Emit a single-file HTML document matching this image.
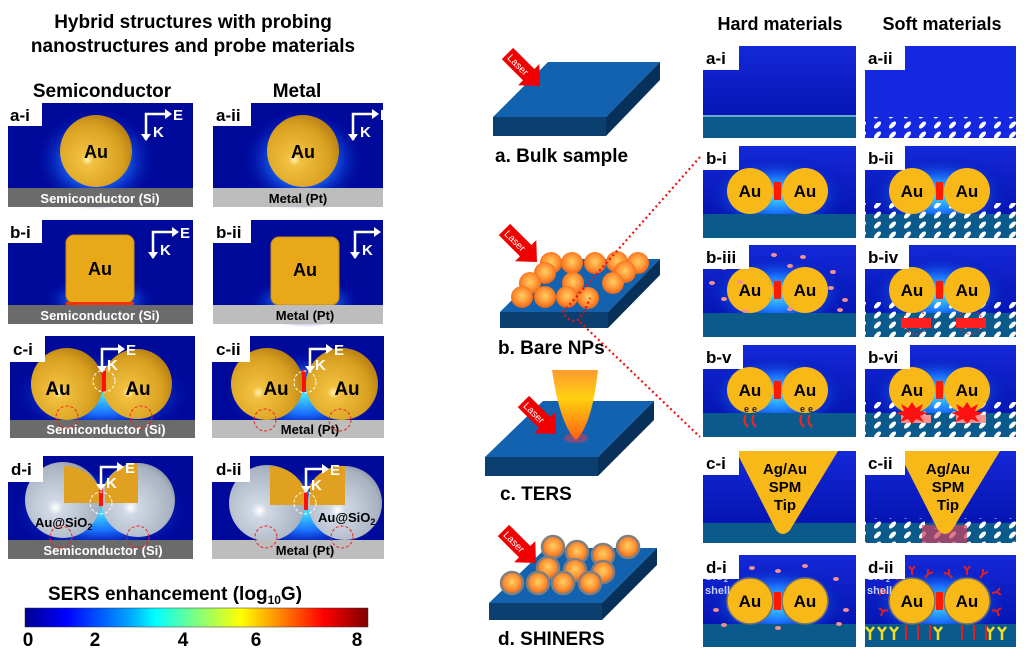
<!DOCTYPE html>
<html><head><meta charset="utf-8"><style>
html,body{margin:0;padding:0;background:#fff;width:1024px;height:663px;overflow:hidden}
svg{display:block;font-family:"Liberation Sans",Arial,sans-serif;font-weight:bold}
</style></head><body>
<svg width="1024" height="663" viewBox="0 0 1024 663" xmlns="http://www.w3.org/2000/svg">
<defs>
<radialGradient id="gold" cx="0.38" cy="0.62" r="0.7"><stop offset="0" stop-color="#fff2b0"/><stop offset="0.12" stop-color="#f2c040"/><stop offset="0.7" stop-color="#d8a020"/><stop offset="1" stop-color="#b07a10"/></radialGradient>
<radialGradient id="silver" cx="0.4" cy="0.6" r="0.7"><stop offset="0" stop-color="#ffffff"/><stop offset="0.15" stop-color="#d0d8e4"/><stop offset="0.8" stop-color="#a8b2c0"/><stop offset="1" stop-color="#7f8896"/></radialGradient>
<radialGradient id="glow"><stop offset="0" stop-color="#40e0ff"/><stop offset="0.45" stop-color="#1a70ff"/><stop offset="1" stop-color="#0010b0" stop-opacity="0"/></radialGradient>
<radialGradient id="np" cx="0.5" cy="0.45" r="0.6"><stop offset="0" stop-color="#ffd060"/><stop offset="0.6" stop-color="#ff8c30"/><stop offset="1" stop-color="#e05a10"/></radialGradient>
<linearGradient id="tip" x1="0" y1="0" x2="0" y2="1"><stop offset="0" stop-color="#ff9a30"/><stop offset="0.4" stop-color="#ffd010"/><stop offset="1" stop-color="#ff6010"/></linearGradient>
<linearGradient id="fieldR" x1="0" y1="0" x2="0" y2="1"><stop offset="0" stop-color="#1428d8"/><stop offset="1" stop-color="#0010a8"/></linearGradient>
<linearGradient id="jet" x1="0" y1="0" x2="1" y2="0"><stop offset="0" stop-color="#00008f"/><stop offset="0.12" stop-color="#0000ff"/><stop offset="0.3" stop-color="#00a0ff"/><stop offset="0.38" stop-color="#00ffff"/><stop offset="0.5" stop-color="#80ff80"/><stop offset="0.63" stop-color="#ffff00"/><stop offset="0.75" stop-color="#ff8000"/><stop offset="0.87" stop-color="#ff0000"/><stop offset="1" stop-color="#800000"/></linearGradient>
<pattern id="ell" width="15" height="10" patternUnits="userSpaceOnUse"><ellipse cx="7.5" cy="5" rx="4.5" ry="2.2" transform="rotate(-45 7.5 5)" fill="#fff"/></pattern>
<g id="laser"><polygon points="-46,-8 -16,-8 -16,-15 0,0 -16,15 -16,8 -46,8" fill="#f00000"/><text x="-43" y="4" font-size="10" fill="#fff" font-weight="normal">Laser</text></g>
</defs>

<!-- Titles -->
<text x="193" y="28" font-size="19" text-anchor="middle">Hybrid structures with probing</text>
<text x="193" y="52" font-size="19" text-anchor="middle">nanostructures and probe materials</text>
<text x="102" y="97" font-size="19" text-anchor="middle">Semiconductor</text>
<text x="297" y="97" font-size="19" text-anchor="middle">Metal</text>
<text x="780" y="30" font-size="18" text-anchor="middle">Hard materials</text>
<text x="942" y="30" font-size="18" text-anchor="middle">Soft materials</text>

<!-- LEFT PANELS -->
<g>
<rect x="8" y="103" width="185" height="104" fill="#000a9a"/>
<ellipse cx="96" cy="160" rx="60" ry="50" fill="url(#glow)"/>
<circle cx="96" cy="151" r="36" fill="url(#gold)"/>
<text x="96" y="158" font-size="18" text-anchor="middle">Au</text>
<rect x="8" y="188" width="185" height="19" fill="#6b6b6b"/>
<text x="100" y="203" font-size="13" fill="#fff" text-anchor="middle">Semiconductor (Si)</text>
<rect x="8" y="103" width="34" height="23" fill="#fff"/><text x="10" y="121" font-size="17">a-i</text>

<rect x="213" y="103" width="170" height="104" fill="#000a9a"/>
<ellipse cx="303" cy="160" rx="60" ry="50" fill="url(#glow)"/>
<circle cx="303" cy="151" r="36" fill="url(#gold)"/>
<text x="303" y="158" font-size="18" text-anchor="middle">Au</text>
<rect x="213" y="188" width="170" height="19" fill="#bdbdbd"/>
<text x="298" y="203" font-size="13" text-anchor="middle">Metal (Pt)</text>
<rect x="213" y="103" width="38" height="23" fill="#fff"/><text x="216" y="121" font-size="17">a-ii</text>

<rect x="8" y="220" width="185" height="104" fill="#000a9a"/>
<ellipse cx="100" cy="300" rx="55" ry="25" fill="url(#glow)"/>
<rect x="66" y="235" width="68" height="68" rx="8" fill="#e8a818" stroke="#c88a10"/>
<text x="100" y="275" font-size="18" text-anchor="middle">Au</text>
<rect x="66" y="302" width="68" height="3" fill="#ff3000"/>
<rect x="8" y="305" width="185" height="19" fill="#6b6b6b"/>
<text x="100" y="320" font-size="13" fill="#fff" text-anchor="middle">Semiconductor (Si)</text>
<rect x="8" y="220" width="34" height="23" fill="#fff"/><text x="10" y="238" font-size="17">b-i</text>

<rect x="213" y="220" width="170" height="104" fill="#000a9a"/>
<ellipse cx="305" cy="302" rx="55" ry="25" fill="url(#glow)"/>
<rect x="271" y="237" width="68" height="68" rx="8" fill="#e8a818" stroke="#c88a10"/>
<text x="305" y="276" font-size="18" text-anchor="middle">Au</text>
<rect x="213" y="305" width="170" height="19" fill="#bdbdbd"/>
<text x="305" y="320" font-size="13" text-anchor="middle">Metal (Pt)</text>
<rect x="213" y="220" width="38" height="23" fill="#fff"/><text x="216" y="238" font-size="17">b-ii</text>

<rect x="10" y="336" width="185" height="102" fill="#000a9a"/>
<ellipse cx="102" cy="395" rx="88" ry="42" fill="url(#glow)"/>
<circle cx="67" cy="384" r="36" fill="url(#gold)"/>
<circle cx="137" cy="384" r="35" fill="url(#gold)"/>
<rect x="102" y="370" width="4" height="22" fill="#ff1000"/>
<text x="58" y="395" font-size="19" text-anchor="middle">Au</text>
<text x="138" y="395" font-size="19" text-anchor="middle">Au</text>
<rect x="10" y="420" width="185" height="18" fill="#6b6b6b"/>
<text x="106" y="434" font-size="13" fill="#fff" text-anchor="middle">Semiconductor (Si)</text>
<circle cx="104" cy="381" r="11" fill="none" stroke="#fff" stroke-dasharray="3,2"/>
<circle cx="67" cy="417" r="11" fill="none" stroke="#f02020" stroke-dasharray="3,2"/>
<circle cx="141" cy="417" r="11" fill="none" stroke="#f02020" stroke-dasharray="3,2"/>
<rect x="10" y="336" width="35" height="26" fill="#fff"/><text x="13" y="355" font-size="17">c-i</text>

<rect x="212" y="336" width="172" height="102" fill="#000a9a"/>
<ellipse cx="304" cy="395" rx="78" ry="42" fill="url(#glow)"/>
<circle cx="267" cy="384" r="36" fill="url(#gold)"/>
<circle cx="342" cy="384" r="36" fill="url(#gold)"/>
<rect x="302" y="370" width="4" height="22" fill="#ff1000"/>
<text x="276" y="395" font-size="19" text-anchor="middle">Au</text>
<text x="347" y="395" font-size="19" text-anchor="middle">Au</text>
<rect x="212" y="420" width="172" height="18" fill="#bdbdbd"/>
<text x="310" y="434" font-size="13" text-anchor="middle">Metal (Pt)</text>
<circle cx="305" cy="382" r="11" fill="none" stroke="#fff" stroke-dasharray="3,2"/>
<circle cx="265" cy="420" r="11" fill="none" stroke="#f02020" stroke-dasharray="3,2"/>
<circle cx="340" cy="420" r="11" fill="none" stroke="#f02020" stroke-dasharray="3,2"/>
<rect x="212" y="336" width="38" height="26" fill="#fff"/><text x="216" y="355" font-size="17">c-ii</text>

<rect x="8" y="456" width="185" height="103" fill="#000a9a"/>
<ellipse cx="100" cy="512" rx="88" ry="42" fill="url(#glow)"/>
<circle cx="63" cy="500" r="38" fill="url(#silver)"/>
<circle cx="138" cy="500" r="37" fill="url(#silver)"/>
<path d="M64 466 A38 38 0 0 1 100 490 L100 503 L64 503 Z" fill="#e0a020"/>
<path d="M105 503 L105 485 A37 37 0 0 1 138 463 L138 503 Z" fill="#e0a020"/>
<rect x="99" y="488" width="4" height="18" fill="#ff1000"/>
<text x="35" y="527" font-size="13">Au@SiO<tspan font-size="9" dy="3">2</tspan></text>
<rect x="8" y="540" width="185" height="19" fill="#6b6b6b"/>
<text x="103" y="555" font-size="13" fill="#fff" text-anchor="middle">Semiconductor (Si)</text>
<circle cx="101" cy="503" r="11" fill="none" stroke="#fff" stroke-dasharray="3,2"/>
<circle cx="61" cy="537" r="11" fill="none" stroke="#f02020" stroke-dasharray="3,2"/>
<circle cx="138" cy="537" r="11" fill="none" stroke="#f02020" stroke-dasharray="3,2"/>
<rect x="8" y="456" width="35" height="26" fill="#fff"/><text x="11" y="475" font-size="17">d-i</text>

<rect x="212" y="456" width="172" height="103" fill="#000a9a"/>
<ellipse cx="305" cy="512" rx="78" ry="42" fill="url(#glow)"/>
<circle cx="267" cy="503" r="38" fill="url(#silver)"/>
<circle cx="345" cy="503" r="37" fill="url(#silver)"/>
<path d="M270 466 A38 38 0 0 1 305 490 L305 505 L270 505 Z" fill="#e0a020"/>
<path d="M310 505 L310 485 A37 37 0 0 1 345 466 L345 505 Z" fill="#e0a020"/>
<rect x="304" y="492" width="4" height="18" fill="#ff1000"/>
<text x="318" y="522" font-size="13">Au@SiO<tspan font-size="9" dy="3">2</tspan></text>
<rect x="212" y="540" width="172" height="19" fill="#bdbdbd"/>
<text x="305" y="555" font-size="13" text-anchor="middle">Metal (Pt)</text>
<circle cx="305" cy="503" r="11" fill="none" stroke="#fff" stroke-dasharray="3,2"/>
<circle cx="266" cy="537" r="11" fill="none" stroke="#f02020" stroke-dasharray="3,2"/>
<circle cx="342" cy="537" r="11" fill="none" stroke="#f02020" stroke-dasharray="3,2"/>
<rect x="212" y="456" width="38" height="26" fill="#fff"/><text x="216" y="475" font-size="17">d-ii</text>
</g>
<!-- E/K arrows -->
<g stroke="#fff" stroke-width="2.5" fill="#fff">
<path d="M146 140 V114 H165" fill="none"/><polygon points="165,109 172,114 165,119" stroke="none"/><polygon points="141,134 146,141 151,134" stroke="none"/>
<path d="M353 140 V114 H372" fill="none"/><polygon points="372,109 379,114 372,119" stroke="none"/><polygon points="348,134 353,141 358,134" stroke="none"/>
<path d="M153 258 V232 H172" fill="none"/><polygon points="172,227 179,232 172,237" stroke="none"/><polygon points="148,252 153,259 158,252" stroke="none"/>
<path d="M355 258 V232 H374" fill="none"/><polygon points="374,227 381,232 374,237" stroke="none"/><polygon points="350,252 355,259 360,252" stroke="none"/>
<path d="M102 372 V349 H118" fill="none"/><polygon points="118,344 125,349 118,354" stroke="none"/><polygon points="97,366 102,373 107,366" stroke="none"/>
<path d="M310 372 V349 H326" fill="none"/><polygon points="326,344 333,349 326,354" stroke="none"/><polygon points="305,366 310,373 315,366" stroke="none"/>
<path d="M101 490 V467 H117" fill="none"/><polygon points="117,462 124,467 117,472" stroke="none"/><polygon points="96,484 101,491 106,484" stroke="none"/>
<path d="M306 492 V469 H322" fill="none"/><polygon points="322,464 329,469 322,474" stroke="none"/><polygon points="301,486 306,493 311,486" stroke="none"/>
</g>
<g fill="#fff" font-size="15">
<text x="173" y="120">E</text><text x="153" y="137">K</text>
<text x="380" y="120">E</text><text x="360" y="137">K</text>
<text x="180" y="238">E</text><text x="160" y="255">K</text>
<text x="362" y="255">K</text>
<text x="126" y="355">E</text><text x="107" y="370">K</text>
<text x="334" y="355">E</text><text x="315" y="370">K</text>
<text x="125" y="473">E</text><text x="106" y="488">K</text>
<text x="330" y="475">E</text><text x="311" y="490">K</text>
</g>

<!-- Colorbar -->
<text x="175" y="600" font-size="19" text-anchor="middle">SERS enhancement (log<tspan font-size="12" dy="4">10</tspan><tspan dy="-4">G)</tspan></text>
<rect x="25" y="608" width="343" height="19" fill="url(#jet)" stroke="#333" stroke-width="0.5"/>
<g font-size="19"><text x="28" y="646" text-anchor="middle">0</text><text x="95" y="646" text-anchor="middle">2</text><text x="183" y="646" text-anchor="middle">4</text><text x="256" y="646" text-anchor="middle">6</text><text x="357" y="646" text-anchor="middle">8</text></g>

<!-- MIDDLE COLUMN -->
<polygon points="493,117 548,62 660,62 606,117" fill="#1262b0"/>
<rect x="493" y="117" width="113" height="19" fill="#0a3f70"/>
<polygon points="606,117 660,62 660,80 606,136" fill="#07305a"/>
<use href="#laser" transform="translate(540,86) rotate(45)"/>
<text x="495" y="162" font-size="19">a. Bulk sample</text>

<polygon points="500,312 553,259 660,259 608,312" fill="#1262b0"/>
<rect x="500" y="312" width="108" height="16" fill="#0a3f70"/>
<polygon points="608,312 660,259 660,275 608,328" fill="#07305a"/>
<g fill="url(#np)">
<circle cx="551" cy="263" r="11"/><circle cx="572" cy="263" r="11"/><circle cx="595" cy="263" r="11"/><circle cx="617" cy="262" r="11"/><circle cx="638" cy="263" r="11"/>
<circle cx="545" cy="273" r="11"/><circle cx="625" cy="272" r="11"/>
<circle cx="530" cy="283" r="11"/><circle cx="573" cy="283" r="11"/><circle cx="613" cy="283" r="11"/>
<circle cx="522" cy="297" r="11"/><circle cx="545" cy="297" r="11"/><circle cx="567" cy="297" r="11"/><circle cx="588" cy="298" r="11"/>
</g>
<use href="#laser" transform="translate(537,262) rotate(45)"/>
<text x="498" y="354" font-size="19">b. Bare NPs</text>

<polygon points="485,457 543,401 654,401 598,457" fill="#1262b0"/>
<rect x="485" y="457" width="113" height="19" fill="#0a3f70"/>
<polygon points="598,457 654,401 654,420 598,476" fill="#07305a"/>
<ellipse cx="576" cy="438" rx="12" ry="5" fill="#c04060" opacity="0.6"/>
<path d="M552 370 L598 370 Q592 425 576 440 Q560 425 552 370 Z" fill="url(#tip)"/>
<use href="#laser" transform="translate(556,434) rotate(45)"/>
<text x="500" y="500" font-size="19">c. TERS</text>

<polygon points="489,603 546,548 657,548 602,603" fill="#1262b0"/>
<rect x="489" y="603" width="113" height="17" fill="#0a3f70"/>
<polygon points="602,603 657,548 657,565 602,620" fill="#07305a"/>
<g fill="url(#np)" stroke="#808080" stroke-width="2.5">
<circle cx="553" cy="547" r="11"/><circle cx="577" cy="552" r="11"/><circle cx="603" cy="555" r="11"/><circle cx="628" cy="547" r="11"/>
<circle cx="548" cy="568" r="11"/><circle cx="575" cy="570" r="11"/><circle cx="603" cy="572" r="11"/>
<circle cx="512" cy="583" r="11"/><circle cx="538" cy="583" r="11"/><circle cx="563" cy="583" r="11"/><circle cx="590" cy="583" r="11"/>
</g>
<use href="#laser" transform="translate(536,563) rotate(45)"/>
<text x="498" y="645" font-size="19">d. SHINERS</text>

<!-- RIGHT PANELS -->
<g>
<rect x="703" y="46" width="153" height="92" fill="url(#fieldR)"/>
<rect x="703" y="115" width="153" height="23" fill="#0b5a8c"/><rect x="703" y="115" width="153" height="2" fill="#6aaad0"/>
<rect x="865" y="46" width="151" height="92" fill="#1428e0"/>
<rect x="865" y="117" width="151" height="21" fill="url(#ell)"/>
<rect x="703" y="146" width="153" height="92" fill="url(#fieldR)"/>
<rect x="865" y="146" width="151" height="92" fill="url(#fieldR)"/>
<rect x="703" y="245" width="153" height="92" fill="url(#fieldR)"/>
<rect x="865" y="245" width="151" height="92" fill="url(#fieldR)"/>
<rect x="703" y="345" width="153" height="92" fill="url(#fieldR)"/>
<rect x="865" y="345" width="151" height="92" fill="url(#fieldR)"/>
<rect x="703" y="451" width="153" height="92" fill="url(#fieldR)"/>
<rect x="865" y="451" width="151" height="92" fill="url(#fieldR)"/>
<rect x="703" y="555" width="153" height="92" fill="url(#fieldR)"/>
<rect x="865" y="555" width="151" height="92" fill="url(#fieldR)"/>
</g>
<g>
<ellipse cx="777" cy="195" rx="72" ry="40" fill="url(#glow)"/><ellipse cx="939" cy="195" rx="72" ry="40" fill="url(#glow)"/>
<ellipse cx="777" cy="294" rx="72" ry="40" fill="url(#glow)"/><ellipse cx="939" cy="294" rx="72" ry="40" fill="url(#glow)"/>
<ellipse cx="777" cy="394" rx="72" ry="40" fill="url(#glow)"/><ellipse cx="939" cy="394" rx="72" ry="40" fill="url(#glow)"/>
<ellipse cx="777" cy="604" rx="72" ry="40" fill="url(#glow)"/><ellipse cx="939" cy="604" rx="72" ry="40" fill="url(#glow)"/>
<ellipse cx="783" cy="528" rx="20" ry="14" fill="url(#glow)"/><ellipse cx="943" cy="528" rx="20" ry="14" fill="url(#glow)"/>
</g>
<g fill="#0b5a8c">
<rect x="703" y="214" width="153" height="24"/><rect x="865" y="214" width="151" height="24"/>
<rect x="703" y="313" width="153" height="24"/><rect x="865" y="313" width="151" height="24"/>
<rect x="703" y="413" width="153" height="24"/><rect x="865" y="413" width="151" height="24"/>
<rect x="703" y="523" width="153" height="20"/><rect x="865" y="523" width="151" height="20"/>
<rect x="703" y="624" width="153" height="23"/><rect x="865" y="624" width="151" height="23"/>
</g>
<g fill="url(#ell)">
<rect x="865" y="203" width="151" height="35"/>
<rect x="865" y="302" width="151" height="35"/>
<rect x="865" y="402" width="151" height="35"/>
<rect x="865" y="518" width="60" height="25"/><rect x="950" y="518" width="66" height="25"/><rect x="925" y="528" width="25" height="15"/>
</g>
<rect x="901" y="318" width="30" height="10" fill="#ff2020"/><rect x="956" y="318" width="30" height="10" fill="#ff2020"/>
<circle cx="915" cy="322" r="12" fill="none" stroke="#f02020" stroke-dasharray="2,2"/><circle cx="970" cy="322" r="12" fill="none" stroke="#f02020" stroke-dasharray="2,2"/>
<rect x="901" y="415" width="30" height="8" fill="#ff9090"/><rect x="956" y="415" width="30" height="8" fill="#ff9090"/>
<rect x="922" y="525" width="45" height="18" fill="#d04060" opacity="0.7"/>

<g fill="#f8b818">
<circle cx="750" cy="191" r="23"/><circle cx="805" cy="191" r="23"/>
<circle cx="912" cy="191" r="23"/><circle cx="967" cy="191" r="23"/>
<circle cx="750" cy="290" r="23"/><circle cx="805" cy="290" r="23"/>
<circle cx="912" cy="290" r="23"/><circle cx="967" cy="290" r="23"/>
<circle cx="750" cy="390" r="23"/><circle cx="805" cy="390" r="23"/>
<circle cx="912" cy="390" r="23"/><circle cx="967" cy="390" r="23"/>
</g>
<g fill="#f8b818" stroke="#707070" stroke-width="1.5">
<circle cx="750" cy="601" r="23"/><circle cx="805" cy="601" r="23"/>
<circle cx="912" cy="601" r="23"/><circle cx="967" cy="601" r="23"/>
</g>
<g fill="#ff1a00">
<rect x="774" y="182" width="7" height="18"/><rect x="936" y="182" width="7" height="18"/>
<rect x="774" y="281" width="7" height="18"/><rect x="936" y="281" width="7" height="18"/>
<rect x="774" y="381" width="7" height="18"/><rect x="936" y="381" width="7" height="18"/>
<rect x="774" y="592" width="7" height="18"/><rect x="936" y="592" width="7" height="18"/>
</g>
<path d="M736 451 L838 451 L790 530 Q783 538 776 530 Z" fill="#f8b818"/>
<path d="M898 451 L1000 451 L952 530 Q945 538 938 530 Z" fill="#f8b818"/>
<g font-size="15" text-anchor="middle"><text x="785" y="474">Ag/Au</text><text x="785" y="492">SPM</text><text x="785" y="510">Tip</text>
<text x="948" y="474">Ag/Au</text><text x="948" y="492">SPM</text><text x="948" y="510">Tip</text></g>
<polygon points="912,402 916,408 923,404 920,411 928,413 920,416 924,422 916,419 912,424 908,419 900,422 904,416 896,413 904,411 901,404 908,408" fill="#ff1010"/>
<polygon points="967,402 971,408 978,404 975,411 983,413 975,416 979,422 971,419 967,424 963,419 955,422 959,416 951,413 959,411 956,404 963,408" fill="#ff1010"/>
<g font-size="9"><text x="744" y="412" fill="#222">e</text><text x="752" y="412" fill="#222">e</text><text x="800" y="412" fill="#222">e</text><text x="808" y="412" fill="#222">e</text></g>
<g stroke="#ff2020" stroke-width="2" fill="none"><path d="M746 415 q-4 6 2 12"/><path d="M754 415 q-4 6 2 12"/><path d="M802 415 q-4 6 2 12"/><path d="M810 415 q-4 6 2 12"/></g>
<g fill="#f49090">
<ellipse cx="712" cy="283" rx="3" ry="2"/><ellipse cx="724" cy="268" rx="3" ry="2"/><ellipse cx="734" cy="258" rx="3" ry="2"/><ellipse cx="774" cy="255" rx="3" ry="2"/><ellipse cx="803" cy="257" rx="3" ry="2"/><ellipse cx="833" cy="272" rx="3" ry="2"/><ellipse cx="831" cy="288" rx="3" ry="2"/><ellipse cx="845" cy="300" rx="3" ry="2"/><ellipse cx="740" cy="282" rx="3" ry="2"/><ellipse cx="724" cy="299" rx="3" ry="2"/><ellipse cx="790" cy="266" rx="3" ry="2"/><ellipse cx="790" cy="309" rx="3" ry="2"/><ellipse cx="745" cy="311" rx="3" ry="2"/><ellipse cx="840" cy="310" rx="3" ry="2"/>
<ellipse cx="752" cy="568" rx="3" ry="2"/><ellipse cx="778" cy="571" rx="3" ry="2"/><ellipse cx="805" cy="566" rx="3" ry="2"/><ellipse cx="836" cy="579" rx="3" ry="2"/><ellipse cx="716" cy="610" rx="3" ry="2"/><ellipse cx="724" cy="625" rx="3" ry="2"/><ellipse cx="846" cy="610" rx="3" ry="2"/><ellipse cx="839" cy="624" rx="3" ry="2"/><ellipse cx="778" cy="628" rx="3" ry="2"/>
</g>
<g stroke="#e02020" stroke-width="2" fill="none">
<path d="M912 575 l0 -5 m0 0 l-3 -4 m3 4 l3 -4"/><path d="M925 578 l3 -4 m0 0 l0 -5 m0 5 l5 -2"/><path d="M898 580 l-3 -4 m0 0 l-5 -1 m5 1 l0 -5"/><path d="M888 593 l-5 -1 m0 0 l-3 -4 m3 4 l-4 3"/><path d="M888 610 l-5 1 m0 0 l-4 -3 m4 3 l-2 5"/>
<path d="M967 575 l0 -5 m0 0 l-3 -4 m3 4 l3 -4"/><path d="M980 578 l3 -4 m0 0 l0 -5 m0 5 l5 -2"/><path d="M952 578 l-3 -4 m0 0 l-5 -1 m5 1 l0 -5"/><path d="M992 593 l5 -1 m0 0 l3 -4 m-3 4 l4 3"/><path d="M992 610 l5 1 m0 0 l4 -3 m-4 3 l2 5"/><path d="M900 565 l-2 -4 m0 0 l-4 -2 m4 2 l0 -5"/>
</g>
<g stroke="#f0e020" stroke-width="2.5" fill="none">
<path d="M870 640 v-8 m0 0 l-4 -5 m4 5 l4 -5"/><path d="M882 640 v-8 m0 0 l-4 -5 m4 5 l4 -5"/><path d="M894 640 v-8 m0 0 l-4 -5 m4 5 l4 -5"/><path d="M938 640 v-8 m0 0 l-4 -5 m4 5 l4 -5"/><path d="M990 640 v-8 m0 0 l-4 -5 m4 5 l4 -5"/><path d="M1002 640 v-8 m0 0 l-4 -5 m4 5 l4 -5"/>
</g>
<g stroke="#e02020" stroke-width="2"><path d="M906 640 v-15 M918 640 v-15 M930 640 v-15 M962 640 v-15 M974 640 v-15 M986 640 v-15"/></g>
<g font-size="17" text-anchor="middle">
<text x="750" y="197">Au</text><text x="805" y="197">Au</text><text x="912" y="197">Au</text><text x="967" y="197">Au</text>
<text x="750" y="296">Au</text><text x="805" y="296">Au</text><text x="912" y="296">Au</text><text x="967" y="296">Au</text>
<text x="750" y="396">Au</text><text x="805" y="396">Au</text><text x="912" y="396">Au</text><text x="967" y="396">Au</text>
<text x="750" y="607">Au</text><text x="805" y="607">Au</text><text x="912" y="607">Au</text><text x="967" y="607">Au</text>
</g>
<g font-size="11" fill="#c8d0ff"><text x="705" y="580">SiO<tspan font-size="7" dy="2">2</tspan></text><text x="705" y="594">shell</text><text x="867" y="580">SiO<tspan font-size="7" dy="2">2</tspan></text><text x="867" y="594">shell</text></g>
<g fill="#fff">
<rect x="703" y="46" width="36" height="24"/><rect x="865" y="46" width="40" height="24"/>
<rect x="703" y="146" width="36" height="24"/><rect x="865" y="146" width="40" height="24"/>
<rect x="703" y="245" width="46" height="24"/><rect x="865" y="245" width="44" height="24"/>
<rect x="703" y="345" width="40" height="24"/><rect x="865" y="345" width="45" height="24"/>
<rect x="703" y="451" width="36" height="24"/><rect x="865" y="451" width="40" height="24"/>
<rect x="703" y="555" width="36" height="24"/><rect x="865" y="555" width="40" height="24"/>
</g>
<g font-size="17">
<text x="706" y="64">a-i</text><text x="868" y="64">a-ii</text>
<text x="706" y="164">b-i</text><text x="868" y="164">b-ii</text>
<text x="706" y="263">b-iii</text><text x="868" y="263">b-iv</text>
<text x="706" y="363">b-v</text><text x="868" y="363">b-vi</text>
<text x="706" y="469">c-i</text><text x="868" y="469">c-ii</text>
<text x="706" y="573">d-i</text><text x="868" y="573">d-ii</text>
</g>
<g stroke="#f01010" stroke-width="2.2" stroke-dasharray="2,3" fill="none">
<path d="M700 157 L563 312 Q570 324 578 320 Q585 312 590 298"/>
<path d="M580 322 L700 437"/>
</g>
</svg>
</body></html>
